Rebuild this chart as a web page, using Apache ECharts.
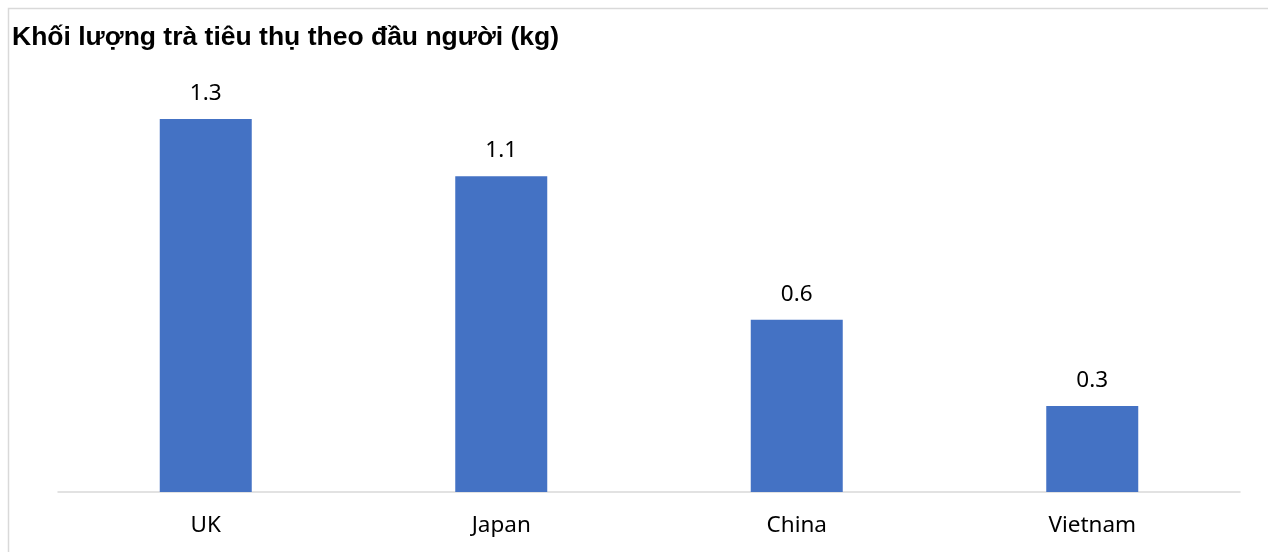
<!DOCTYPE html>
<html>
<head>
<meta charset="utf-8">
<script src="https://cdn.jsdelivr.net/npm/echarts@6/dist/echarts.min.js"></script>
<style>html,body{margin:0;padding:0;background:#fff}#c{width:1268px;height:552px}</style>
</head>
<body>
<div id="c"></div>
<script>
const categories = ['UK', 'Japan', 'China', 'Vietnam'];
const values = [1.3, 1.1, 0.6, 0.3];
const titleText = 'Khối lượng trà tiêu thụ theo đầu người (kg)';

const chart = echarts.init(document.getElementById('c'));
chart.setOption({
  animation: false,
  backgroundColor: '#fff',
  graphic: [{
    type: 'rect', left: 6, top: 6,
    shape: { width: 1300, height: 600 },
    style: { fill: 'none', stroke: '#d9d9d9', lineWidth: 1.5 },
    silent: true, z: -1
  }],
  title: {
    text: titleText, left: 7, top: 19,
    textStyle: { fontFamily: 'Liberation Sans, Arial, sans-serif', fontWeight: 'bold', fontSize: 26.5, color: '#000' }
  },
  grid: { left: 58, right: 28, top: 90.2, bottom: 60, containLabel: false },
  xAxis: {
    type: 'category', data: categories,
    axisLine: { show: true, lineStyle: { color: '#d9d9d9', width: 1.5 } },
    axisTick: { show: false },
    axisLabel: { margin: 22, fontSize: 22.5, color: '#000', fontFamily: 'Noto Sans, sans-serif' }
  },
  yAxis: {
    type: 'value', min: 0, max: 1.4, show: false, splitLine: { show: false }
  },
  series: [{
    type: 'bar', data: values, barWidth: 92,
    itemStyle: { color: '#4472c4' },
    label: { show: true, position: 'top', distance: 14, fontSize: 22.5, color: '#000', fontFamily: 'Noto Sans, sans-serif' }
  }]
});
</script>
</body>
</html>
